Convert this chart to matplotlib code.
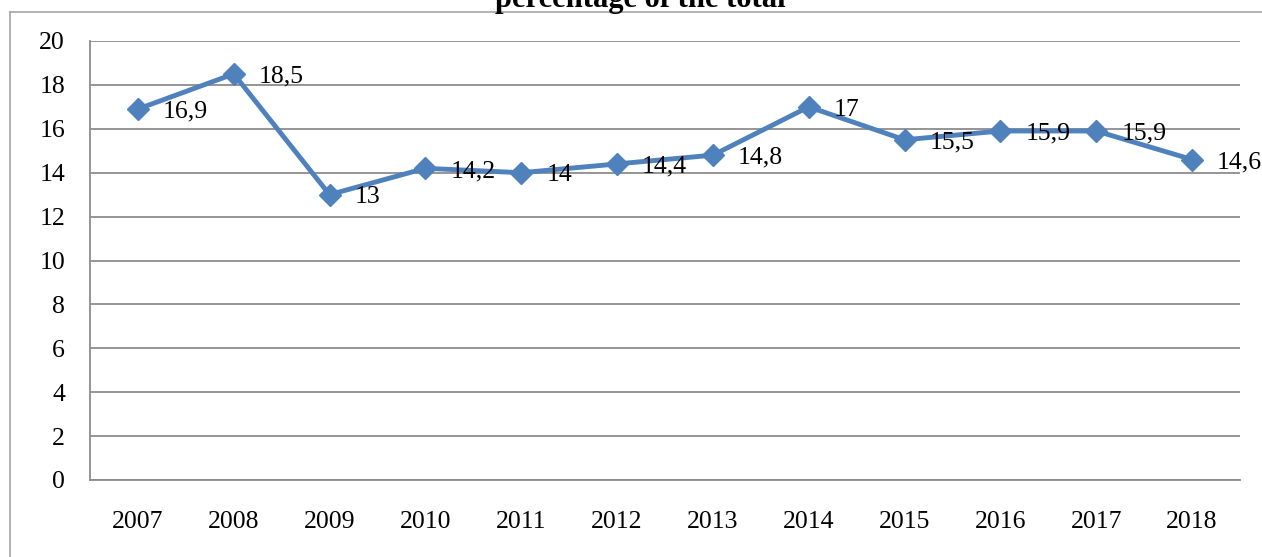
import matplotlib
matplotlib.use("Agg")
import matplotlib.pyplot as plt
from matplotlib.lines import Line2D

years = ["2007", "2008", "2009", "2010", "2011", "2012", "2013", "2014", "2015", "2016", "2017", "2018"]
values = [16.9, 18.5, 13, 14.2, 14, 14.4, 14.8, 17, 15.5, 15.9, 15.9, 14.6]
labels = ["16,9", "18,5", "13", "14,2", "14", "14,4", "14,8", "17", "15,5", "15,9", "15,9", "14,6"]
yticks = [0, 2, 4, 6, 8, 10, 12, 14, 16, 18, 20]

plt.rcParams['font.family'] = ['Liberation Serif', 'DejaVu Serif']

W, H = 1262, 557
fig = plt.figure(figsize=(W / 100, H / 100), dpi=100)
ax = fig.add_axes([90 / W, 1 - 480 / H, (1240 - 90) / W, (480 - 41) / H])

x = list(range(len(years)))
ax.plot(x, values, color='#4F81BD', lw=3.5, marker='D', ms=11, mfc='#4F81BD', mec='#4F81BD', zorder=3)
for xi, v, lab in zip(x, values, labels):
    ax.annotate(lab, (xi, v), xytext=(18, -2), textcoords='offset points',
                va='center', ha='left', fontsize=18.5, color='black', zorder=4)

ax.set_xlim(-0.5, len(years) - 0.5)
ax.set_ylim(0, 20)
ax.set_yticks(yticks)
ax.set_yticklabels([str(t) for t in yticks], fontsize=18.5)
ax.set_xticks(x)
ax.set_xticklabels(years, fontsize=18.5)
ax.tick_params(axis='both', length=0)
ax.tick_params(axis='y', pad=18)
ax.tick_params(axis='x', pad=22)
ax.grid(axis='y', color='#8c8c8c', lw=1.3)
ax.set_axisbelow(True)
for s in ['top', 'right']:
    ax.spines[s].set_visible(False)
ax.spines['left'].set_color('#8c8c8c')
ax.spines['bottom'].set_color('#8c8c8c')
ax.spines['left'].set_linewidth(1.3)
ax.spines['bottom'].set_linewidth(1.3)

# outer chart border (top and left)
fig.add_artist(Line2D([10 / W, 1.0], [1 - 12 / H, 1 - 12 / H], transform=fig.transFigure, color='#a6a6a6', lw=1.2))
fig.add_artist(Line2D([10 / W, 10 / W], [0, 1 - 12 / H], transform=fig.transFigure, color='#a6a6a6', lw=1.2))

fig.text(640 / W, 1 - 7 / H, "percentage of the total", ha='center', va='baseline',
         fontsize=22, fontweight='bold')

fig.savefig("out.png", dpi=100)
